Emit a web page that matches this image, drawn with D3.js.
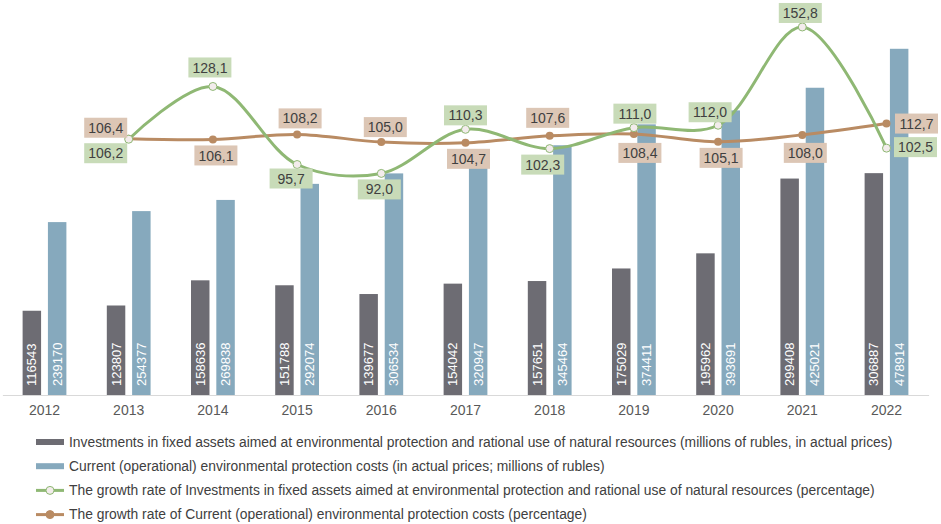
<!DOCTYPE html>
<html>
<head>
<meta charset="utf-8">
<script src="https://cdn.jsdelivr.net/npm/d3@7"></script>
<style>
  body { margin: 0; background: #fff; }
  svg { display: block; font-family: "Liberation Sans", Arial, sans-serif; }
</style>
</head>
<body>
<div id="chart"></div>
<script>
// Chart data
const years = ["2012", "2013", "2014", "2015", "2016", "2017", "2018", "2019", "2020", "2021", "2022"];
const investments = [116543, 123807, 158636, 151788, 139677, 154042, 157651, 175029, 195962, 299408, 306887];
const currentCosts = [239170, 254377, 269838, 292074, 306534, 320947, 345464, 374411, 393691, 425021, 478914];
const growthYears = ["2013", "2014", "2015", "2016", "2017", "2018", "2019", "2020", "2021", "2022"];
const investGrowth = [106.2, 128.1, 95.7, 92.0, 110.3, 102.3, 111.0, 112.0, 152.8, 102.5];
const costGrowth = [106.4, 106.1, 108.2, 105.0, 104.7, 107.6, 108.4, 105.1, 108.0, 112.7];
const legendLabels = [
    "Investments in fixed assets aimed at environmental protection and rational use of natural resources (millions of rubles, in actual prices)",
    "Current (operational) environmental protection costs (in actual prices; millions of rubles)",
    "The growth rate of Investments in fixed assets aimed at environmental protection and rational use of natural resources (percentage)",
    "The growth rate of Current (operational) environmental protection costs (percentage)"
];

// Label placement (offset of label centre from point)
const investLabelPos = [[-23, 14], [-3, -19], [-6, 14], [-2, 16], [0, -14], [-7, 16], [1, -14], [-8, -13], [-2, -14], [29, -1]];
const costLabelPos = [[-23, -11], [3, 16], [3, -16], [4, -15], [3, 16], [-2, -18], [6, 19], [3, 16], [3, 18], [30, 0]];

const colors = {
    invest: '#6d6c73',
    cost: '#86a9bd',
    investLine: '#8fb874',
    costLine: '#b98b63',
    investLabel: '#c8dbb8',
    costLabel: '#dcc6b5',
    text: '#404040',
    axis: '#595959'
};

const width = 941, height = 524;
const baseline = 395;

const svg = d3.select('#chart').append('svg')
    .attr('width', width)
    .attr('height', height);

// Scales
const x0 = d3.scaleBand()
    .domain(years)
    .range([2.4, 928.6])
    .paddingInner(0.48)
    .paddingOuter(0.24);

const x1 = d3.scaleBand()
    .domain(['invest', 'cost'])
    .range([0, x0.bandwidth()])
    .paddingInner(0.27);

const yBar = d3.scaleLinear().domain([0, 550000]).range([baseline, -2.6]);
const yRate = d3.scaleLinear().domain([0, 164]).range([baseline, 0]);

const cx = year => x0(year) + x0.bandwidth() / 2;

// Bars
const groups = svg.append('g')
    .selectAll('g')
    .data(years.map((y, i) => ({ year: y, invest: investments[i], cost: currentCosts[i] })))
    .enter().append('g')
    .attr('transform', d => `translate(${x0(d.year)},0)`);

['invest', 'cost'].forEach(key => {
    groups.append('rect')
        .attr('x', x1(key))
        .attr('y', d => yBar(d[key]))
        .attr('width', x1.bandwidth())
        .attr('height', d => baseline - yBar(d[key]))
        .attr('fill', colors[key]);

    groups.append('text')
        .attr('transform', d => `translate(${x1(key) + x1.bandwidth() / 2 + 4.5},${baseline - 9}) rotate(-90)`)
        .attr('fill', '#fff')
        .attr('font-size', '13px')
        .text(d => d[key]);
});

// X axis
const xAxis = svg.append('g')
    .attr('transform', `translate(0,${baseline})`)
    .call(d3.axisBottom(x0).tickSize(0).tickPadding(10));
xAxis.select('.domain').attr('stroke', '#d9d9d9').attr('stroke-width', 1);
xAxis.selectAll('text')
    .attr('fill', colors.axis)
    .attr('font-size', '14px')
    .attr('font-family', '"Liberation Sans", Arial, sans-serif');

// Growth lines
const line = values => d3.line()
    .x((d, i) => cx(growthYears[i]))
    .y(d => yRate(d))
    .curve(d3.curveCatmullRom.alpha(0.5))(values);

svg.append('path')
    .attr('d', line(costGrowth))
    .attr('fill', 'none')
    .attr('stroke', colors.costLine)
    .attr('stroke-width', 3);

svg.append('path')
    .attr('d', line(investGrowth))
    .attr('fill', 'none')
    .attr('stroke', colors.investLine)
    .attr('stroke-width', 3);

svg.append('g').selectAll('circle')
    .data(costGrowth)
    .enter().append('circle')
    .attr('cx', (d, i) => cx(growthYears[i]))
    .attr('cy', d => yRate(d))
    .attr('r', 4)
    .attr('fill', colors.costLine);

svg.append('g').selectAll('circle')
    .data(investGrowth)
    .enter().append('circle')
    .attr('cx', (d, i) => cx(growthYears[i]))
    .attr('cy', d => yRate(d))
    .attr('r', 4)
    .attr('fill', '#f3ecec')
    .attr('stroke', colors.investLine)
    .attr('stroke-width', 1);

// Data labels on the growth lines
const fmt = v => v.toFixed(1).replace('.', ',');

function drawLabels(values, offsets, bg) {
    const lbl = svg.append('g').selectAll('g')
        .data(values)
        .enter().append('g')
        .attr('transform', (d, i) => `translate(${cx(growthYears[i]) + offsets[i][0]},${yRate(d) + offsets[i][1]})`);
    lbl.append('rect')
        .attr('x', -21.5)
        .attr('y', -10)
        .attr('width', 43)
        .attr('height', 20)
        .attr('fill', bg);
    lbl.append('text')
        .attr('text-anchor', 'middle')
        .attr('dy', '0.36em')
        .attr('fill', colors.text)
        .attr('font-size', '14px')
        .text(d => fmt(d));
}

drawLabels(costGrowth, costLabelPos, colors.costLabel);
drawLabels(investGrowth, investLabelPos, colors.investLabel);

// Legend
const legend = svg.append('g')
    .selectAll('g')
    .data(legendLabels)
    .enter().append('g')
    .attr('transform', (d, i) => `translate(36,${442 + i * 24.2})`);

legend.each(function (d, i) {
    const g = d3.select(this);
    if (i < 2) {
        g.append('rect')
            .attr('x', 0).attr('y', -3)
            .attr('width', 28).attr('height', 6)
            .attr('fill', i === 0 ? colors.invest : colors.cost);
    } else {
        const c = i === 2 ? colors.investLine : colors.costLine;
        g.append('line')
            .attr('x1', 0).attr('x2', 28)
            .attr('stroke', c).attr('stroke-width', 3);
        g.append('circle')
            .attr('cx', 14).attr('r', 4)
            .attr('fill', i === 2 ? '#f3ecec' : c)
            .attr('stroke', c).attr('stroke-width', 1);
    }
});

legend.append('text')
    .attr('x', 33)
    .attr('dy', '0.35em')
    .attr('fill', colors.text)
    .attr('font-size', '13.85px')
    .text(d => d);
</script>
</body>
</html>
